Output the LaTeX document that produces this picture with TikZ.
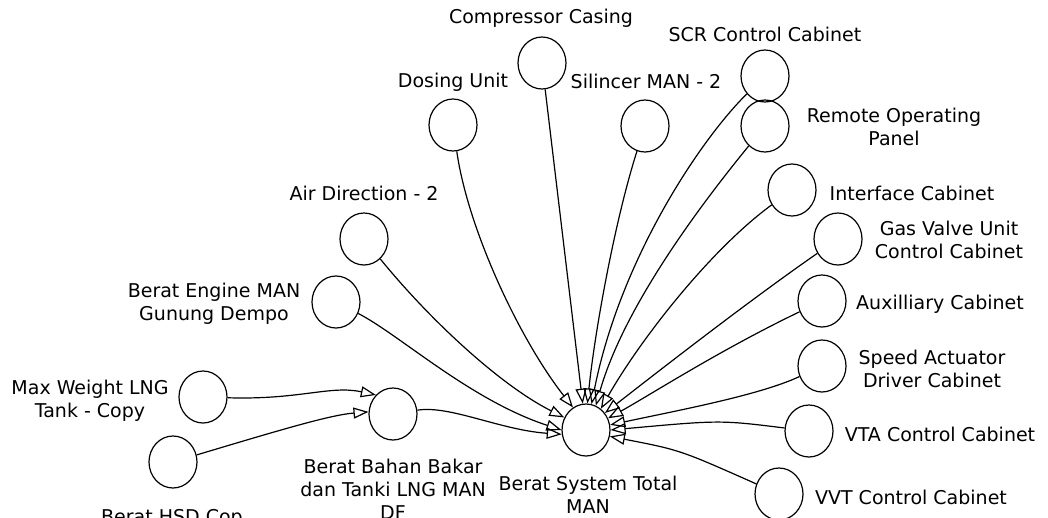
\documentclass[tikz,border=0pt]{standalone}
\usepackage{fontspec}
\setmainfont{DejaVu Sans}
\usetikzlibrary{arrows.meta,shapes.geometric}

\begin{document}
\begin{tikzpicture}[x=1pt,y=-1pt,line width=1.2pt,
  crc/.style={draw,ellipse,minimum width=48pt,minimum height=52pt,inner sep=0pt},
  lab/.style={align=center,inner sep=0pt,font=\fontsize{19}{23}\selectfont},
  arr/.style={-{Triangle[open,length=15pt,width=11pt]}}]
\useasboundingbox (0,0) rectangle (1048,517);

\node[crc] (tot) at (586,430) {};
\node[crc] (comp) at (542,63) {};
\node[crc] (dos) at (453,125) {};
\node[crc] (sil) at (645,126) {};
\node[crc] (scr) at (765,76) {};
\node[crc] (rem) at (765,126) {};
\node[crc] (air) at (364,239) {};
\node[crc] (eng) at (336,302) {};
\node[crc] (int) at (792,190) {};
\node[crc] (gas) at (838,239) {};
\node[crc] (aux) at (822,301) {};
\node[crc] (spd) at (822,366) {};
\node[crc] (vta) at (809,431) {};
\node[crc] (vvt) at (779,494) {};
\node[crc] (max) at (203,397) {};
\node[crc] (hsd) at (173,462) {};
\node[crc] (bah) at (393,414) {};

\node[lab] (ltot) at (588,495) {Berat System Total\\MAN};
\node[lab] (lcomp) at (541,18) {Compressor Casing};
\node[lab] (ldos) at (453,82) {Dosing Unit};
\node[lab] (lsil) at (646,81) {Silincer MAN - 2};
\node[lab] (lscr) at (765,34) {SCR Control Cabinet};
\node[lab] (lrem) at (894,127) {Remote Operating\\Panel};
\node[lab] (lair) at (364,193) {Air Direction - 2};
\node[lab] (leng) at (214,304) {Berat Engine MAN\\Gunung Dempo};
\node[lab] (lint) at (912,193) {Interface Cabinet};
\node[lab] (lgas) at (949,240) {Gas Valve Unit\\Control Cabinet};
\node[lab] (laux) at (940,304) {Auxilliary Cabinet};
\node[lab] (lspd) at (932,369) {Speed Actuator\\Driver Cabinet};
\node[lab] (lvta) at (940,434) {VTA Control Cabinet};
\node[lab] (lvvt) at (911,497) {VVT Control Cabinet};
\node[lab] (lmax) at (90,401) {Max Weight LNG\\Tank - Copy};
\node[lab] (lhsd) at (172,518) {Berat HSD Cop};
\node[lab] (lbah) at (393,489) {Berat Bahan Bakar\\dan Tanki LNG MAN\\DF};

\draw[arr] (comp) -- (tot.97);
\draw[arr] (dos) .. controls (468,230) and (520,340) .. (tot.120);
\draw[arr] (air) .. controls (430,320) and (500,385) .. (tot.150);
\draw[arr] (eng) .. controls (400,335) and (470,400) .. (tot.180);
\draw[arr] (bah) .. controls (450,405) and (500,430) .. (tot.190);
\draw[arr] (sil) .. controls (615,220) and (595,330) .. (tot.87);
\draw[arr] (scr) .. controls (700,140) and (620,260) .. (tot.78);
\draw[arr] (rem) .. controls (680,230) and (620,320) .. (tot.68);
\draw[arr] (int) .. controls (710,250) and (640,340) .. (tot.55);
\draw[arr] (gas) .. controls (750,300) and (660,370) .. (tot.42);
\draw[arr] (aux) .. controls (720,350) and (650,395) .. (tot.28);
\draw[arr] (spd) .. controls (760,395) and (680,410) .. (tot.12);
\draw[arr] (vta) .. controls (720,420) .. (tot.0);
\draw[arr] (vvt) .. controls (680,450) .. (tot.-15);
\draw[arr] (max) .. controls (300,400) and (330,385) .. (bah.132);
\draw[arr] (hsd) .. controls (280,430) and (330,415) .. (bah.175);
\end{tikzpicture}
\end{document}
